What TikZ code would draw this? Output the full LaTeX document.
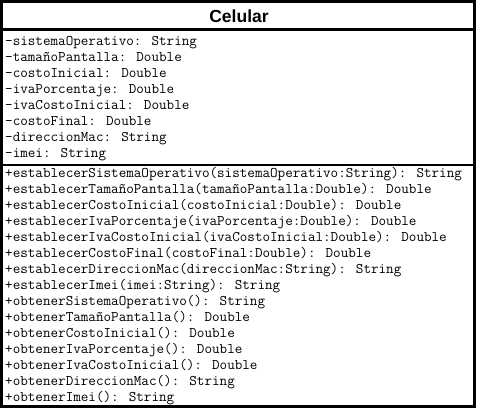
\documentclass[tikz,border=0pt]{standalone}
\usepackage{fontspec}
\newfontfamily\umltitle{Liberation Sans}
\begin{document}
\begin{tikzpicture}[x=1pt,y=-1pt,
  member/.style={anchor=base west, inner sep=0pt, font=\ttfamily\fontsize{14.7}{16}\selectfont},
  classname/.style={anchor=base, inner sep=0pt, font=\umltitle\bfseries\fontsize{17.5}{20}\selectfont},
  frame/.style={draw=black, line width=3pt}]
\useasboundingbox[fill=white] (0,0) rectangle (478,410);
\draw[frame] (1.5,1.5) rectangle (474,406);
\draw[black, line width=3.5pt] (1.5,29.5) -- (474,29.5);
\draw[black, line width=2pt] (1.5,164.5) -- (474,164.5);
\node[classname] (title) at (239,22) {Celular};
\foreach \t [count=\i] in {
  {-sistemaOperativo: String},
  {-tamañoPantalla: Double},
  {-costoInicial: Double},
  {-ivaPorcentaje: Double},
  {-ivaCostoInicial: Double},
  {-costoFinal: Double},
  {-direccionMac: String},
  {-imei: String}}
  \node[member] (a\i) at (5,{45.8+16*(\i-1)}) {\t};
\foreach \t [count=\i] in {
  {+establecerSistemaOperativo(sistemaOperativo:String): String},
  {+establecerTamañoPantalla(tamañoPantalla:Double): Double},
  {+establecerCostoInicial(costoInicial:Double): Double},
  {+establecerIvaPorcentaje(ivaPorcentaje:Double): Double},
  {+establecerIvaCostoInicial(ivaCostoInicial:Double): Double},
  {+establecerCostoFinal(costoFinal:Double): Double},
  {+establecerDireccionMac(direccionMac:String): String},
  {+establecerImei(imei:String): String},
  {+obtenerSistemaOperativo(): String},
  {+obtenerTamañoPantalla(): Double},
  {+obtenerCostoInicial(): Double},
  {+obtenerIvaPorcentaje(): Double},
  {+obtenerIvaCostoInicial(): Double},
  {+obtenerDireccionMac(): String},
  {+obtenerImei(): String}}
  \node[member] (m\i) at (5,{177.8+16*(\i-1)}) {\t};
\end{tikzpicture}
\end{document}
